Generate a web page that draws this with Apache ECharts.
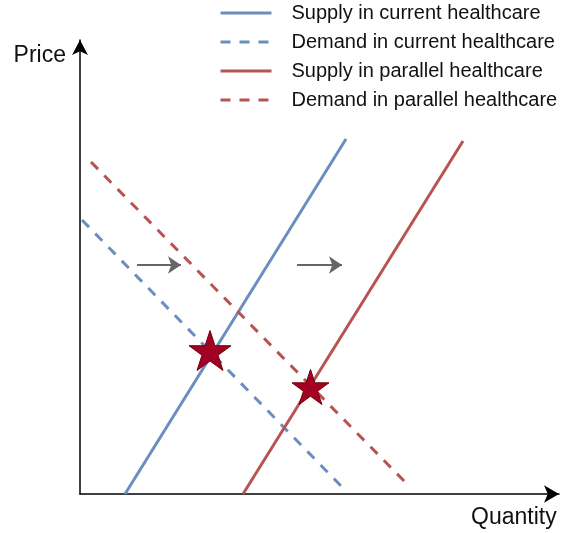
<!DOCTYPE html>
<html>
<head>
<meta charset="utf-8">
<script src="https://cdn.jsdelivr.net/npm/echarts@6/dist/echarts.min.js"></script>
<style>
  html, body { margin: 0; padding: 0; background: #fff; }
  #chart { width: 571px; height: 533px; }
</style>
</head>
<body>
<div id="chart"></div>
<script>
// quantity / price in abstract units (origin at the axes corner)
const supplyCurrent = [[45, 0], [266, 355]];
const demandCurrent = [[2, 274], [263, 6]];
const supplyParallel = [[163, 0], [383, 353]];
const demandParallel = [[11, 332], [329, 8]];
const equilibria = [[130, 143.5, 42], [230.5, 107, 37]];
const shiftArrows = [
  [[57, 229], [101, 229]],
  [[217, 229], [262, 229]]
];

const blue = "#6c8ebf";
const red = "#b85450";
const starPath = "path://M50,0 L61.8,36.2 L100,36.2 L69.1,58.8 L80.9,95.1 L50,72.4 L19.1,95.1 L30.9,58.8 L0,36.2 L38.2,36.2 Z";

let chart = echarts.init(document.getElementById("chart"));
chart.setOption({
  animation: false,
  textStyle: { fontFamily: "Liberation Sans, Arial, sans-serif" },
  grid: { left: 80, right: 12, top: 40, bottom: 39, containLabel: false, outerBoundsMode: "none" },
  legend: {
    orient: "vertical",
    left: 214,
    top: -2,
    itemWidth: 51,
    itemHeight: 14,
    itemGap: 9,
    itemStyle: { opacity: 0 },
    lineStyle: { width: 3 },
    textStyle: { fontSize: 20, color: "#111", lineHeight: 20, padding: [0, 0, 0, 15] },
    data: [
      "Supply in current healthcare",
      "Demand in current healthcare",
      "Supply in parallel healthcare",
      "Demand in parallel healthcare"
    ]
  },
  xAxis: {
    type: "value",
    min: 0,
    max: 479,
    name: "Quantity",
    nameLocation: "end",
    nameGap: -88,
    nameTextStyle: { fontSize: 23, color: "#111", verticalAlign: "top", padding: [12, 0, 0, 0] },
    splitLine: { show: false },
    axisTick: { show: false },
    axisLabel: { show: false },
    axisLine: { lineStyle: { color: "#000", width: 1.5 }, symbol: ["none", "arrow"], symbolSize: [13, 15] }
  },
  yAxis: {
    type: "value",
    min: 0,
    max: 454,
    name: "Price",
    nameLocation: "end",
    nameGap: -27,
    nameTextStyle: { fontSize: 23, color: "#111", align: "right", padding: [0, 14, 0, 0] },
    splitLine: { show: false },
    axisTick: { show: false },
    axisLabel: { show: false },
    axisLine: { lineStyle: { color: "#000", width: 1.5 }, symbol: ["none", "arrow"], symbolSize: [12, 15] }
  },
  series: [
    {
      name: "Supply in current healthcare",
      type: "line",
      data: supplyCurrent,
      symbol: "none",
      color: blue,
      lineStyle: { color: blue, width: 3 }
    },
    {
      name: "Demand in current healthcare",
      type: "line",
      data: demandCurrent,
      symbol: "none",
      color: blue,
      lineStyle: { color: blue, width: 3, type: [10, 9] }
    },
    {
      name: "Supply in parallel healthcare",
      type: "line",
      data: supplyParallel,
      symbol: "none",
      color: red,
      lineStyle: { color: red, width: 3 }
    },
    {
      name: "Demand in parallel healthcare",
      type: "line",
      data: demandParallel,
      symbol: "none",
      color: red,
      lineStyle: { color: red, width: 3, type: [10, 9] }
    },
    {
      type: "lines",
      coordinateSystem: "cartesian2d",
      symbol: ["none", "arrow"],
      symbolSize: [0, 13],
      lineStyle: { color: "#666666", width: 2, opacity: 1 },
      data: shiftArrows.map(c => ({ coords: c }))
    },
    {
      type: "scatter",
      data: equilibria,
      symbol: starPath,
      symbolKeepAspect: true,
      symbolSize: v => v[2],
      itemStyle: { color: "#a20025", borderColor: "#6f0000", borderWidth: 1, opacity: 1 },
      z: 5
    }
  ]
});
</script>
</body>
</html>
